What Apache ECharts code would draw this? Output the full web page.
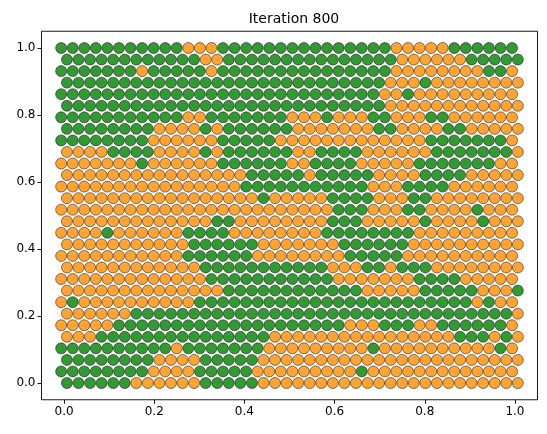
<!DOCTYPE html>
<html>
<head>
<meta charset="utf-8">
<script src="https://cdn.jsdelivr.net/npm/echarts@6/dist/echarts.min.js"></script>
<style>
  html, body { margin: 0; padding: 0; background: #fff; }
  #chart { width: 547px; height: 434px; }
</style>
</head>
<body>
<div id="chart"></div>
<script>
// agent map, top row = y 1.0, left column = x 0.0
// G = green agent, O = orange agent
var gridRows = [
    'GGGGGGGGGGGOOOGGGGGGGGGGGGGGGOOOOOGGGGGG',
    'GGGGGGGGGGGGOOGGGGGGGGGGGGGGGOOOOOOGGGGG',
    'GGGGGGGOGGGGGOGGGGGGGGGGGGGGGOOOOOOOOGGO',
    'GGGGGGGGGGGGGGGGGGGGGGGGGGGGOOOGOOOOOOOO',
    'GGGGGGGGGGGGGGGGGGGGGGGGGGGGOOGOOOOOOOOO',
    'GGGGGGGGGGGGGGGGGGGGGGGGGGGGOOOOOOOOOOOO',
    'GGGGGGGGGGGOOGGGGGGGOOOGOOOGGOOOGGOOOOOO',
    'GGGGGGGGOOOOGOGGGGGGOOOOOOOGGOOOOGGOOOOO',
    'GGGGGGGGOOOOOOGGGGGOOOOOOOOOOOOOGGGGGGGO',
    'OOOOGGGGOOOOGOGGGGGGOOGGGGOOOOOOGGGGGGGO',
    'OOOOOOOGOOOOOOGGGGGGOOGGGGOOOOOGGGGGGGOO',
    'OOOOOOOOOOOOOOOOGGGGGOGGGGGOOOOGGGGOOOOO',
    'OOOOOOOOOOOOOOOOGGGGGGGGGGGOOOGGGGOOOOOO',
    'OOOOOOOOOOOOOOOOOGOOOOOGGGGOOOGGOOOOOOOO',
    'OOOOOOOOOOOOOOOOOOOOOOOOGGGOOOGGOOOOGOOO',
    'OOOOOOOOOOOOOGGOOOOOOOOGGGOOOOOGOOOOGOOO',
    'OOOOGOOOOOOGGGGOOOOOOOOGGGGGGGGOOOOOOOOO',
    'OOOOOOOOOOOGGGGGGOOOOOOOGGGGGGOOOOOOOOOO',
    'OOOOOOOOOOOGGGGGGOOOOOOOOGGGGGOOOOOOOOOO',
    'OOOOOOOOOOOOGGGGGGGGGGGOOOGGOGGGOOOOOOOO',
    'OOOOOOOOOOOOOGGGGGGGGGGGOOOOOOOGGGGOOOOO',
    'OOOOOOOOOOOOOOGGGGGGGGGGGGOOOOOGGGGGOOOG',
    'OGOOOOOOOOOOGGGGGGGGGGGGGGGGGGGGGGGGOGOO',
    'OOOOOOGGGGGGGGGGGGGGGGGGGGGGGGGGGGGGGGGO',
    'OOOOOGGGGGGGGGGGGGGGGGGGGOOOGGGOOGGGGGGO',
    'OOOGGGGGGGGGGGGGGGOOOOOOOOOOOOOOOOGGGOGO',
    'GGGGGGGGGGOGGGGGGGOOOOOOOOOGOOOOOOOOOOGO',
    'GGGGGGGGOOOOGGGGGOOOOOOOOOOOOOOOOOOOOOOO',
    'GGGGGGGGOOOOGGGGGOOOOOOOOOGOOOOOOOOOOOOO',
    'GGGGGGOOOOOOGGGGGOOOOOOOOOOOOOOOOOOOOOOO'
];

var tickValues = [0, 0.2, 0.4, 0.6, 0.8, 1.0];
var chartTitle = 'Iteration 800';

function agentPoints(rows, kind) {
    var pts = [];
    var nr = rows.length;
    for (var r = 0; r < nr; r++) {
        var nc = rows[r].length;
        var shift = (r % 2 === 0) ? -0.25 : 0.25;
        for (var c = 0; c < nc; c++) {
            if (rows[r].charAt(c) === kind) {
                pts.push([(c + shift) / (nc - 1), 1 - r / (nr - 1)]);
            }
        }
    }
    return pts;
}

function valueAxis() {
    return {
        type: 'value',
        min: -0.05,
        max: 1.05,
        axisLine: { show: false, onZero: false },
        splitLine: { show: false },
        axisTick: {
            show: true,
            length: 4,
            customValues: tickValues,
            lineStyle: { color: '#000', width: 0.9 }
        },
        axisLabel: {
            customValues: tickValues,
            color: '#000',
            fontSize: 12,
            fontFamily: 'DejaVu Sans',
            margin: 6,
            formatter: function (v) { return v.toFixed(1); }
        }
    };
}

function scatterSeries(name, data, color) {
    return {
        name: name,
        type: 'scatter',
        data: data,
        symbolSize: 11,
        clip: false,
        itemStyle: {
            color: color,
            opacity: 0.8,
            borderColor: '#000',
            borderWidth: 0.6
        }
    };
}

var option = {
    animation: false,
    backgroundColor: '#fff',
    title: {
        text: chartTitle,
        left: 289,
        top: 7,
        textAlign: 'center',
        textStyle: { color: '#000', fontSize: 14, fontWeight: 'normal', fontFamily: 'DejaVu Sans' }
    },
    grid: {
        left: 41.5,
        right: 9.5,
        top: 31.25,
        bottom: 34.25,
        show: true,
        borderColor: '#000',
        borderWidth: 0.9,
        containLabel: false
    },
    xAxis: valueAxis(),
    yAxis: valueAxis(),
    series: [
        scatterSeries('orange', agentPoints(gridRows, 'O'), '#ff8c00'),
        scatterSeries('green', agentPoints(gridRows, 'G'), '#008000')
    ]
};

echarts.init(document.getElementById('chart')).setOption(option);
</script>
</body>
</html>
